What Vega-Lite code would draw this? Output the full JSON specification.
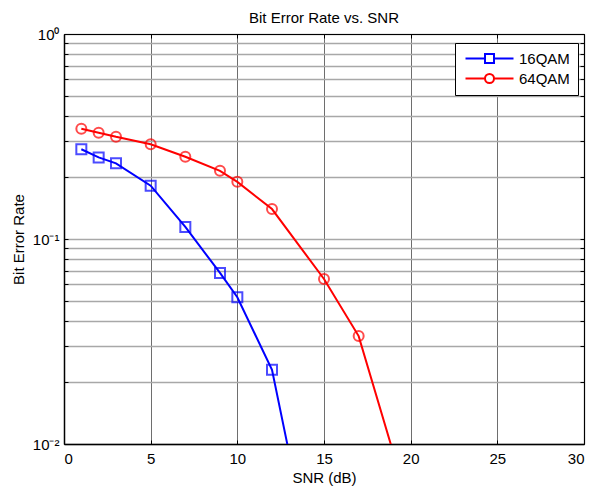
{
  "$schema": "https://vega.github.io/schema/vega-lite/v6.json",
  "width": 520,
  "height": 410,
  "autosize": {"type": "none"},
  "padding": {"left": 64, "top": 34, "right": 7, "bottom": 42},
  "background": "white",
  "config": {
    "font": "Liberation Sans",
    "view": {"stroke": null},
    "axis": {"labelFont": "Liberation Sans", "titleFont": "Liberation Sans", "labelColor": "black", "titleColor": "black", "titleFontWeight": "normal", "labelFontSize": 15, "titleFontSize": 15}
  },
  "title": {"text": "Bit Error Rate vs. SNR", "fontSize": 15, "font": "Liberation Sans", "fontWeight": "normal", "color": "black", "baseline": "alphabetic", "offset": 11, "dy": 22},
  "data": {
    "values": [
      {"snr": 1, "ber": 0.274, "mod": "16QAM"},
      {"snr": 2, "ber": 0.250, "mod": "16QAM"},
      {"snr": 3, "ber": 0.234, "mod": "16QAM"},
      {"snr": 5, "ber": 0.182, "mod": "16QAM"},
      {"snr": 7, "ber": 0.1145, "mod": "16QAM"},
      {"snr": 9, "ber": 0.0683, "mod": "16QAM"},
      {"snr": 10, "ber": 0.052, "mod": "16QAM"},
      {"snr": 12, "ber": 0.023, "mod": "16QAM"},
      {"snr": 15, "ber": 0.00135, "mod": "16QAM"},
      {"snr": 1, "ber": 0.345, "mod": "64QAM"},
      {"snr": 2, "ber": 0.330, "mod": "64QAM"},
      {"snr": 3, "ber": 0.315, "mod": "64QAM"},
      {"snr": 5, "ber": 0.290, "mod": "64QAM"},
      {"snr": 7, "ber": 0.252, "mod": "64QAM"},
      {"snr": 9, "ber": 0.215, "mod": "64QAM"},
      {"snr": 10, "ber": 0.190, "mod": "64QAM"},
      {"snr": 12, "ber": 0.140, "mod": "64QAM"},
      {"snr": 15, "ber": 0.0638, "mod": "64QAM"},
      {"snr": 17, "ber": 0.0336, "mod": "64QAM"},
      {"snr": 20, "ber": 0.0047, "mod": "64QAM"}
    ]
  },
  "resolve": {"axis": {"x": "independent", "y": "independent"}},
  "layer": [
    {
      "mark": {"type": "line", "strokeWidth": 2, "clip": true},
      "encoding": {
        "x": {
          "field": "snr", "type": "quantitative",
          "scale": {"domain": [0, 30], "nice": false, "zero": false},
          "axis": {
            "title": "SNR (dB)", "values": [0, 5, 10, 15, 20, 25, 30],
            "grid": true, "gridColor": "#6e6e6e", "gridWidth": 1, "gridOpacity": 1,
            "domainColor": "black", "domainWidth": 1.5,
            "tickColor": "black", "tickSize": -4, "labelPadding": 11,
            "titleY": 38, "titleBaseline": "alphabetic"
          }
        },
        "y": {
          "field": "ber", "type": "quantitative",
          "scale": {"type": "log", "domain": [0.01, 1], "nice": false},
          "axis": {
            "title": "Bit Error Rate",
            "values": [0.01, 0.02, 0.03, 0.04, 0.05, 0.06, 0.07, 0.08, 0.09, 0.1, 0.2, 0.3, 0.4, 0.5, 0.6, 0.7, 0.8, 0.9, 1],
            "labelExpr": "datum.value > 0.99 ? '10⁰' : (datum.value > 0.099 && datum.value < 0.101 ? '10⁻¹' : (datum.value < 0.0101 ? '10⁻²' : ''))",
            "grid": true, "gridColor": "#a8a8a8", "gridWidth": 1.3, "gridOpacity": 1,
            "domainColor": "black", "domainWidth": 1.5,
            "tickColor": "black", "tickSize": -4, "labelPadding": 9,
            "labelBaseline": "middle",
            "titleX": -41, "titleBaseline": "alphabetic"
          }
        },
        "color": {
          "field": "mod", "type": "nominal",
          "scale": {"domain": ["16QAM", "64QAM"], "range": ["#0000ff", "#ff0000"]},
          "legend": {
            "orient": "none", "legendX": 391, "legendY": 9, "title": null,
            "fillColor": "white", "strokeColor": "black",
            "padding": 8, "labelFontSize": 15, "labelFont": "Liberation Sans", "labelColor": "black",
            "symbolSize": 100, "symbolStrokeWidth": 2, "labelOffset": 41, "rowPadding": 3,
            "symbolFillColor": "transparent",
            "encode": {
              "symbols": {
                "update": {
                  "shape": [
                    {"test": "datum.value === '16QAM'", "value": "M-1,0H2.9M4.7,0H8.6M2.9,-0.9H4.7V0.9H2.9Z"},
                    {"value": "M-1,0H2.9M4.7,0H8.6M4.7,0A0.9,0.9,0,1,1,2.9,0A0.9,0.9,0,1,1,4.7,0Z"}
                  ],
                  "fill": {"value": "transparent"}
                }
              }
            }
          }
        }
      }
    },
    {
      "transform": [{"filter": "datum.mod === '16QAM'"}],
      "mark": {"type": "point", "shape": "square", "filled": false, "size": 100, "strokeWidth": 2, "clip": true},
      "encoding": {
        "x": {
          "field": "snr", "type": "quantitative",
          "axis": {
            "orient": "top", "title": null, "labels": false, "values": [0, 5, 10, 15, 20, 25, 30],
            "grid": false, "domainColor": "black", "domainWidth": 1.2, "tickColor": "black", "tickSize": -4
          }
        },
        "y": {
          "field": "ber", "type": "quantitative",
          "axis": {
            "orient": "right", "title": null, "labels": false,
            "values": [0.01, 0.02, 0.03, 0.04, 0.05, 0.06, 0.07, 0.08, 0.09, 0.1, 0.2, 0.3, 0.4, 0.5, 0.6, 0.7, 0.8, 0.9, 1],
            "grid": false, "domainColor": "black", "domainWidth": 1.2, "tickColor": "black", "tickSize": -4
          }
        },
        "color": {"field": "mod", "type": "nominal", "legend": null}
      }
    },
    {
      "transform": [{"filter": "datum.mod === '64QAM'"}],
      "mark": {"type": "point", "shape": "circle", "filled": false, "size": 100, "strokeWidth": 2, "clip": true},
      "encoding": {
        "x": {"field": "snr", "type": "quantitative", "axis": null},
        "y": {"field": "ber", "type": "quantitative", "axis": null},
        "color": {"field": "mod", "type": "nominal", "legend": null}
      }
    }
  ]
}
